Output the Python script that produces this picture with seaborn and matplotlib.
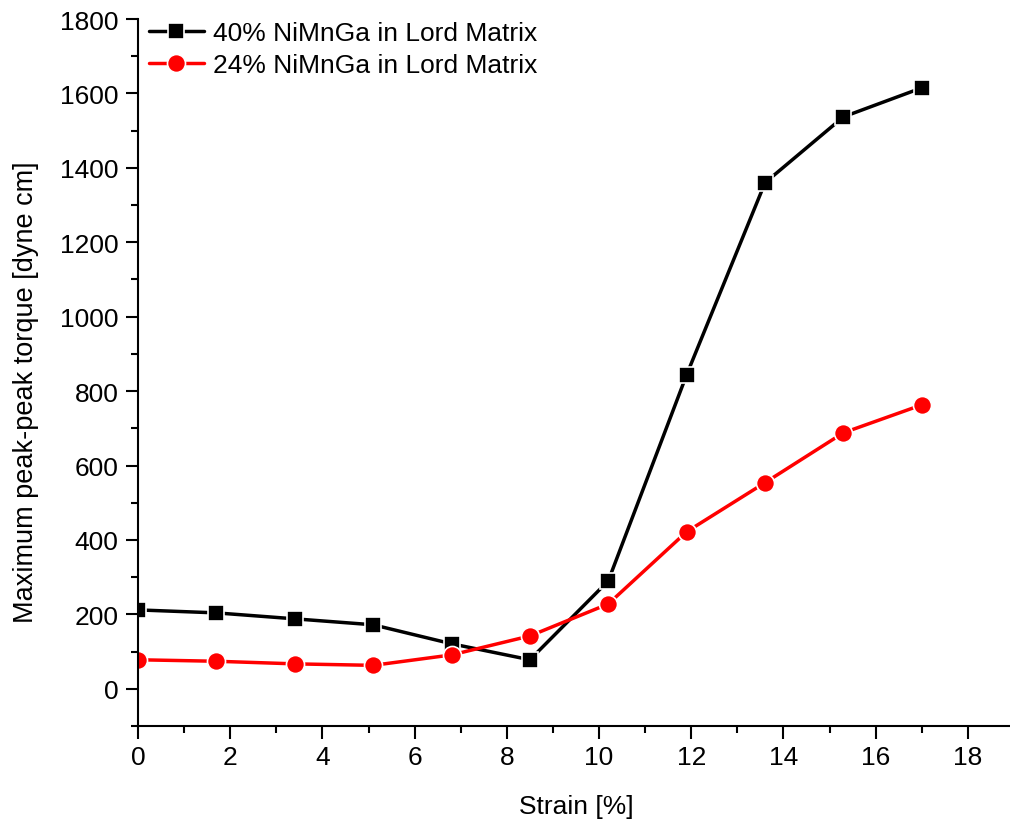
import numpy as np
import pandas as pd
import seaborn as sns
import matplotlib.pyplot as plt
from matplotlib.ticker import MultipleLocator

sns.set_style("ticks")
plt.rcParams['font.family'] = ['Liberation Sans', 'DejaVu Sans']
plt.rcParams['text.color'] = 'black'
plt.rcParams['axes.labelcolor'] = 'black'
plt.rcParams['xtick.color'] = 'black'
plt.rcParams['ytick.color'] = 'black'

strain = [0, 1.7, 3.4, 5.1, 6.8, 8.5, 10.2, 11.9, 13.6, 15.3, 17.0]
torque_40 = [212, 204, 188, 172, 121, 78, 290, 844, 1360, 1537, 1615]
torque_24 = [78, 74, 67, 63, 91, 142, 228, 422, 554, 688, 763]
label_40 = "40% NiMnGa in Lord Matrix"
label_24 = "24% NiMnGa in Lord Matrix"

fig = plt.figure(figsize=(10.10, 8.29), dpi=100)
ax = fig.add_axes([138 / 1010, 1 - 727 / 829, (1014 - 138) / 1010, (727 - 20) / 829])

sns.lineplot(x=strain, y=torque_40, ax=ax, color="black", marker="s", markersize=11.5,
             markeredgecolor="white", markeredgewidth=1.2, linewidth=2.5, label=label_40)
sns.lineplot(x=strain, y=torque_24, ax=ax, color="red", marker="o", markersize=13,
             markeredgecolor="white", markeredgewidth=1.2, linewidth=2.5, label=label_24)

ax.set_xlim(0, 19)
ax.set_ylim(-100, 1800)
ax.xaxis.set_major_locator(MultipleLocator(2))
ax.xaxis.set_minor_locator(MultipleLocator(1))
ax.yaxis.set_major_locator(MultipleLocator(200))
ax.yaxis.set_minor_locator(MultipleLocator(100))
ax.tick_params(which="major", direction="out", length=9, width=1.5, labelsize=19, pad=5)
ax.tick_params(which="minor", direction="out", length=5, width=1.5)
for s in ["top", "right"]:
    ax.spines[s].set_visible(False)
for s in ["left", "bottom"]:
    ax.spines[s].set_linewidth(1.5)
    ax.spines[s].set_color("black")

ax.set_xlabel("Strain [%]", fontsize=19, labelpad=18)
ax.set_ylabel("Maximum peak-peak torque [dyne cm]", fontsize=19.5)
ax.yaxis.set_label_coords(-0.113, 0.474)

ax.legend(loc="upper left", frameon=False, fontsize=19, handlelength=2.1,
          borderaxespad=0, labelspacing=0.3, handletextpad=0.35,
          bbox_to_anchor=(0.0, 1.012))

fig.savefig("out.png", dpi=100)
